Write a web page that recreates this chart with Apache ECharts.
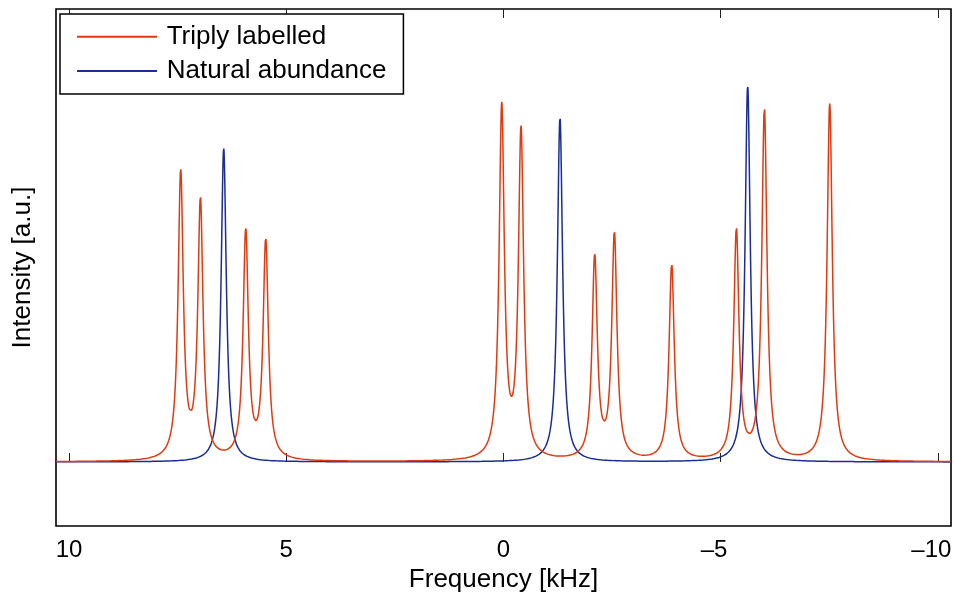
<!DOCTYPE html>
<html>
<head>
<meta charset="utf-8">
<script src="https://cdn.jsdelivr.net/npm/echarts@6/dist/echarts.min.js"></script>
<style>
html,body{margin:0;padding:0;background:#fff;}
#chart{width:954px;height:596px;}
</style>
</head>
<body>
<div id="chart"></div>
<script>
// Peak parameters (frequency in kHz, height in a.u.)
const redPeakFreq = [7.43, 6.976, 5.933, 5.473, 0.041, -0.403, -2.099, -2.552, -3.871, -5.360, -6.005, -7.508];
const redPeakAmp  = [2.858, 2.566, 2.275, 2.178, 3.510, 3.269, 2.017, 2.246, 1.961, 2.291, 3.501, 3.575];
const bluePeakFreq = [6.44, -1.300, -5.62];
const bluePeakAmp  = [3.137, 3.447, 3.767];
const peakHalfWidth = 0.072; // Lorentzian HWHM, kHz
const seriesNames = ['Triply labelled', 'Natural abundance'];
const tickValues = [10, 5, 0, -5, -10];
const tickLabels = ['10', '5', '0', '\u20135', '\u201310'];
const xRange = [-10.3, 10.3];
const yRange = [-0.64, 4.53];

function spectrum(freqs, amps) {
  const pts = [];
  const step = 0.0025;
  const n = Math.round((xRange[1] - xRange[0]) / step);
  const xs = [];
  for (let i = 0; i <= n; i++) xs.push(xRange[0] + i * step);
  freqs.forEach(f => xs.push(f));
  xs.sort((a, b) => a - b);
  xs.forEach(x => {
    let y = 0;
    for (let k = 0; k < freqs.length; k++) {
      const d = (x - freqs[k]) / peakHalfWidth;
      y += amps[k] / (1 + d * d);
    }
    pts.push([x, y]);
  });
  return pts;
}

const chart = echarts.init(document.getElementById('chart'), null, {renderer: 'canvas'});
const font = 'Liberation Sans, Arial, Helvetica, sans-serif';
const tickCommon = {
  show: true, inside: true, length: 9, customValues: tickValues,
  lineStyle: {color: '#222', width: 1}
};
chart.setOption({
  animation: false,
  backgroundColor: '#fff',
  textStyle: {fontFamily: font},
  grid: {
    left: 56, right: 3, top: 9, bottom: 70,
    show: true, borderColor: '#000', borderWidth: 1.6, backgroundColor: 'transparent',
    containLabel: false, outerBoundsMode: 'none'
  },
  legend: {
    orient: 'vertical', left: 60, top: 14,
    data: seriesNames,
    itemWidth: 80, itemHeight: 14, itemGap: 8.3,
    padding: [9.7, 17, 10, 16],
    itemStyle: {opacity: 0},
    borderColor: '#000', borderWidth: 1.5, backgroundColor: '#fff',
    textStyle: {fontSize: 26, color: '#000', fontFamily: font, padding: [0, 0, 0, 4.7]}
  },
  xAxis: [{
    type: 'value', position: 'bottom', inverse: true,
    min: xRange[0], max: xRange[1],
    name: 'Frequency [kHz]', nameLocation: 'middle', nameGap: 41,
    nameTextStyle: {fontSize: 26, color: '#000', fontFamily: font},
    axisLine: {show: false},
    axisTick: tickCommon,
    axisLabel: {
      show: true, customValues: tickValues, margin: 12, fontSize: 24, color: '#000', fontFamily: font,
      formatter: v => {
        const i = tickValues.indexOf(v);
        if (i < 0) return '';
        return v < 0 ? '{neg|' + tickLabels[i] + '}' : tickLabels[i];
      },
      rich: {
        neg: {fontSize: 24, color: '#000', fontFamily: font, padding: [0, 13.3, 0, 0]}
      }
    },
    splitLine: {show: false}
  }, {
    type: 'value', position: 'top', inverse: true,
    min: xRange[0], max: xRange[1],
    axisLine: {show: false},
    axisTick: tickCommon,
    axisLabel: {show: false},
    splitLine: {show: false}
  }],
  yAxis: {
    type: 'value', min: yRange[0], max: yRange[1],
    name: 'Intensity [a.u.]', nameLocation: 'middle', nameGap: 20,
    nameTextStyle: {fontSize: 26, color: '#000', fontFamily: font},
    axisLine: {show: false}, axisTick: {show: false}, axisLabel: {show: false},
    splitLine: {show: false}
  },
  series: [{
    name: seriesNames[0], type: 'line', xAxisIndex: 0,
    data: spectrum(redPeakFreq, redPeakAmp),
    symbol: 'none', showSymbol: false, sampling: null,
    lineStyle: {color: '#e03a10', width: 1.5},
    itemStyle: {color: '#e03a10'}, z: 3
  }, {
    name: seriesNames[1], type: 'line', xAxisIndex: 0,
    data: spectrum(bluePeakFreq, bluePeakAmp),
    symbol: 'none', showSymbol: false, sampling: null,
    lineStyle: {color: '#1a2d96', width: 1.5},
    itemStyle: {color: '#1a2d96'}, z: 2
  }]
});
</script>
</body>
</html>
